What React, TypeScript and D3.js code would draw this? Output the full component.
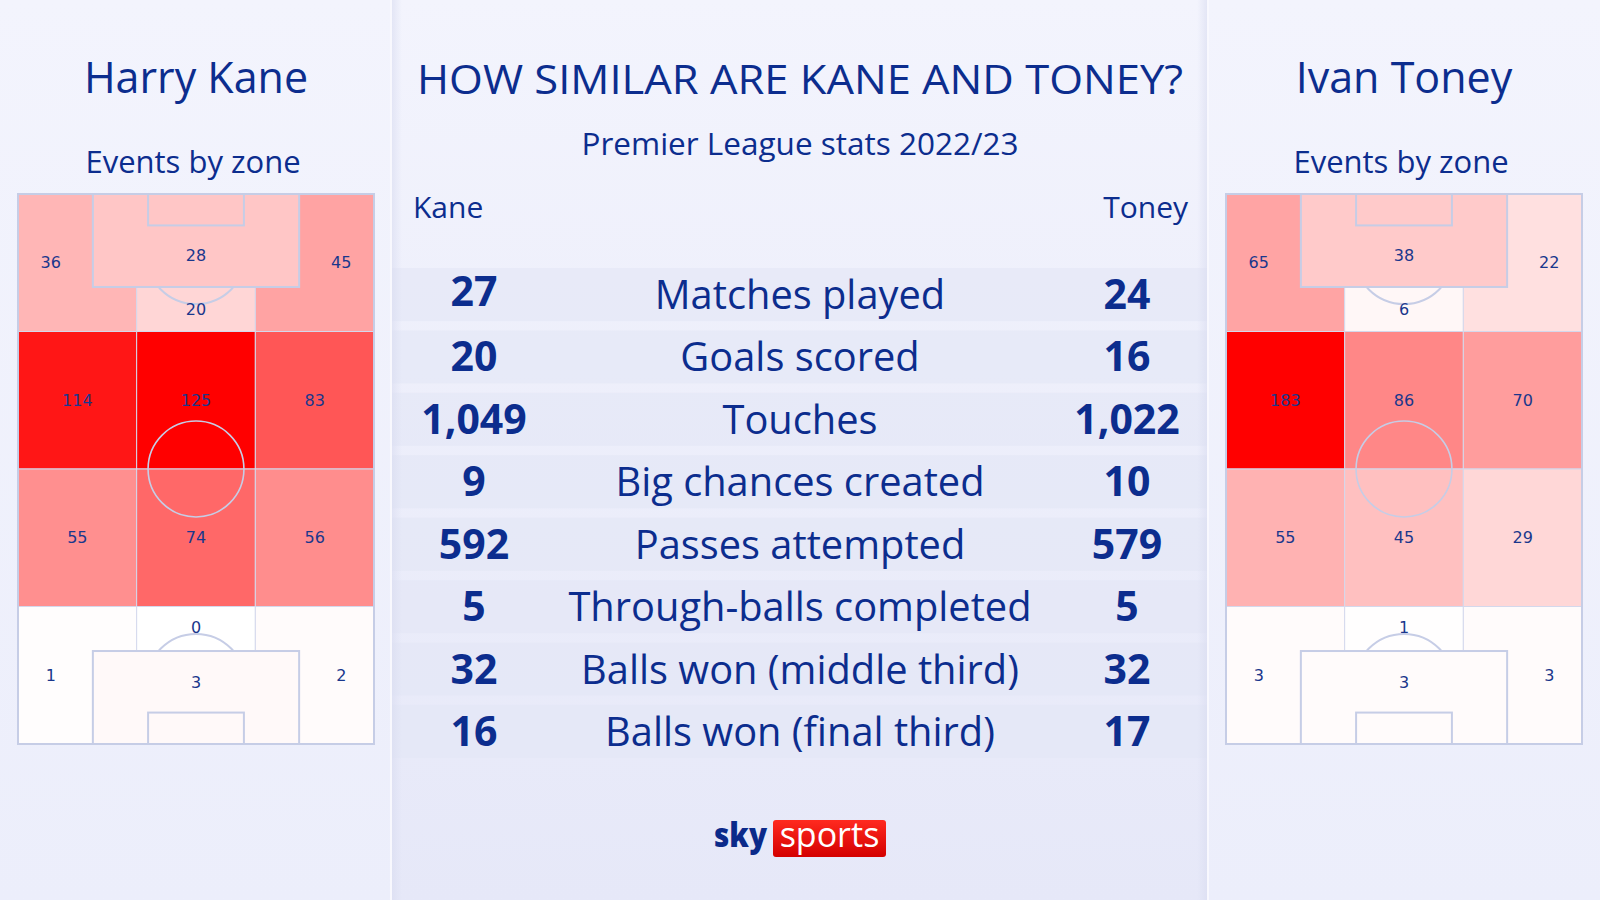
import React from "react";
import * as d3 from "d3";

// ---------- DATA ----------
const statLabels = [
  "Matches played",
  "Goals scored",
  "Touches",
  "Big chances created",
  "Passes attempted",
  "Through-balls completed",
  "Balls won (middle third)",
  "Balls won (final third)",
];
const kaneStats = [27, 20, 1049, 9, 592, 5, 32, 16];
const toneyStats = [24, 16, 1022, 10, 579, 5, 32, 17];

// zone order: top-left, top-box, top-centre, top-right, mid-left, mid-centre, mid-right,
// low-left, low-centre, low-right, bottom-left, bottom-centre, bottom-box, bottom-right
const zoneIds = [
  "tl", "tbox", "tc", "tr",
  "ml", "mc", "mr",
  "ll", "lc", "lr",
  "bl", "bc", "bbox", "br",
];
const kaneZones = [36, 28, 20, 45, 114, 125, 83, 55, 74, 56, 1, 0, 3, 2];
const toneyZones = [65, 38, 6, 22, 183, 86, 70, 55, 45, 29, 3, 1, 3, 3];

const mainTitle = "HOW SIMILAR ARE KANE AND TONEY?";
const subTitle = "Premier League stats 2022/23";
const players = ["Harry Kane", "Ivan Toney"];
const shortNames = ["Kane", "Toney"];
const pitchSubtitle = "Events by zone";

// ---------- LAYOUT ----------
const W = 1600;
const H = 900;
const BLUE = "#0c2d8e";
const FONT = "'Open Sans', 'Noto Sans', sans-serif";
const PL = 68; // pitch width (m)
const PLEN = 105; // pitch length (m)
const pitchW = 356;
const pitchH = 550;
const pitchY = 194;
const pitchXs = [18, 1226];
const c1 = PL / 3;
const c2 = (2 * PL) / 3;
const r = PLEN / 4;
const boxX0 = 14.3;
const boxX1 = PL - 14.3;
const boxD = 17.75;
const sixX0 = 24.85;
const sixX1 = PL - 24.85;
const sixD = 6;

// zone geometry in pitch metres: [x0, y0, x1, y1, labelX, labelY]
const zoneGeom: Record<string, number[]> = {
  tl: [0, 0, c1, r, 6.25, 13.1],
  tc: [c1, boxD, c2, r, PL / 2, 22],
  tr: [c2, 0, PL, r, PL - 6.25, 13.1],
  tbox: [boxX0, 0, boxX1, boxD, PL / 2, 11.8],
  ml: [0, r, c1, 2 * r, c1 / 2, 1.5 * r],
  mc: [c1, r, c2, 2 * r, PL / 2, 1.5 * r],
  mr: [c2, r, PL, 2 * r, (c2 + PL) / 2, 1.5 * r],
  ll: [0, 2 * r, c1, 3 * r, c1 / 2, 2.5 * r],
  lc: [c1, 2 * r, c2, 3 * r, PL / 2, 2.5 * r],
  lr: [c2, 2 * r, PL, 3 * r, (c2 + PL) / 2, 2.5 * r],
  bl: [0, 3 * r, c1, PLEN, 6.25, 3.5 * r],
  bc: [c1, 3 * r, c2, PLEN - boxD, PL / 2, 82.7],
  br: [c2, 3 * r, PL, PLEN, PL - 6.25, 3.5 * r],
  bbox: [boxX0, PLEN - boxD, boxX1, PLEN, PL / 2, 93.2],
};
const boxZones = ["tbox", "bbox"];

function Pitch({ x0, values }: { x0: number; values: number[] }) {
  const xs = d3.scaleLinear().domain([0, PL]).range([0, pitchW]);
  const ys = d3.scaleLinear().domain([0, PLEN]).range([0, pitchH]);
  const color = d3
    .scaleLinear<string>()
    .domain([0, d3.max(values) as number])
    .range(["#ffffff", "#ff0000"]);
  const lineCol = "#c6cde6";
  const arc = (rad: number, start: number, end: number) =>
    d3.arc()({
      innerRadius: ys(rad) - ys(0),
      outerRadius: ys(rad) - ys(0),
      startAngle: start,
      endAngle: end,
    } as any);
  const penR = 9.5;
  const cellIdx = zoneIds.map((id, i) => i).filter((i) => !boxZones.includes(zoneIds[i]));
  const boxIdx = zoneIds.map((id, i) => i).filter((i) => boxZones.includes(zoneIds[i]));
  const rectFor = (i: number, stroke: string, sw: number) => {
    const g = zoneGeom[zoneIds[i]];
    return (
      <rect
        key={zoneIds[i]}
        x={xs(g[0])}
        y={ys(g[1])}
        width={xs(g[2]) - xs(g[0])}
        height={ys(g[3]) - ys(g[1])}
        fill={color(values[i])}
        stroke={stroke}
        strokeWidth={sw}
      />
    );
  };
  return (
    <g transform={`translate(${x0},${pitchY})`}>
      {cellIdx.map((i) => rectFor(i, "#d4d8ec", 1))}
      {/* penalty arcs */}
      <path
        transform={`translate(${xs(PL / 2)},${ys(11.5)})`}
        d={arc(penR, Math.PI / 2, (3 * Math.PI) / 2) as string}
        fill="none"
        stroke={lineCol}
        strokeWidth={2}
      />
      <path
        transform={`translate(${xs(PL / 2)},${ys(PLEN - 11.5)})`}
        d={arc(penR, -Math.PI / 2, Math.PI / 2) as string}
        fill="none"
        stroke={lineCol}
        strokeWidth={2}
      />
      {/* centre circle */}
      <circle
        cx={xs(PL / 2)}
        cy={ys(PLEN / 2)}
        r={ys(9.15) - ys(0)}
        fill="none"
        stroke={lineCol}
        strokeWidth={1.6}
      />
      {boxIdx.map((i) => rectFor(i, lineCol, 2))}
      {/* six-yard boxes */}
      <rect
        x={xs(sixX0)}
        y={ys(0)}
        width={xs(sixX1) - xs(sixX0)}
        height={ys(sixD) - ys(0)}
        fill="none"
        stroke={lineCol}
        strokeWidth={2}
      />
      <rect
        x={xs(sixX0)}
        y={ys(PLEN - sixD)}
        width={xs(sixX1) - xs(sixX0)}
        height={ys(sixD) - ys(0)}
        fill="none"
        stroke={lineCol}
        strokeWidth={2}
      />
      <rect
        x={0}
        y={0}
        width={pitchW}
        height={pitchH}
        fill="none"
        stroke={lineCol}
        strokeWidth={2}
      />
      {zoneIds.map((id, i) => {
        const g = zoneGeom[id];
        return (
          <text
            key={"t" + id}
            x={xs(g[4])}
            y={ys(g[5])}
            textAnchor="middle"
            dominantBaseline="central"
            fontFamily="'DejaVu Sans', sans-serif"
            fontSize={16}
            fill="#1a378c"
          >
            {values[i]}
          </text>
        );
      })}
    </g>
  );
}

export default function App() {
  const fmt = d3.format(",");
  const rows = d3
    .scaleBand<string>()
    .domain(statLabels)
    .range([268, 758])
    .paddingInner(0.15)
    .paddingOuter(0);
  const panelX0 = 392;
  const panelX1 = 1207;
  return (
    <svg
      width={W}
      height={H}
      viewBox={`0 0 ${W} ${H}`}
      style={{ position: "absolute", left: 0, top: 0, display: "block" }}
    >
      <defs>
        <linearGradient id="bgGrad" x1="0" y1="0" x2="0" y2="1">
          <stop offset="0" stopColor="#f3f4fd" />
          <stop offset="1" stopColor="#eceefb" />
        </linearGradient>
        <linearGradient id="panelGrad" x1="0" y1="0" x2="0" y2="1">
          <stop offset="0" stopColor="#f3f4fd" />
          <stop offset="1" stopColor="#e6e8f8" />
        </linearGradient>
        <linearGradient id="edgeL" x1="0" y1="0" x2="1" y2="0">
          <stop offset="0" stopColor="#d9dcf0" stopOpacity={0.6} />
          <stop offset="1" stopColor="#d9dcf0" stopOpacity={0} />
        </linearGradient>
        <linearGradient id="edgeR" x1="1" y1="0" x2="0" y2="0">
          <stop offset="0" stopColor="#d9dcf0" stopOpacity={0.6} />
          <stop offset="1" stopColor="#d9dcf0" stopOpacity={0} />
        </linearGradient>
        <linearGradient id="redGrad" x1="0" y1="0" x2="0" y2="1">
          <stop offset="0" stopColor="#ff2a1f" />
          <stop offset="1" stopColor="#d40000" />
        </linearGradient>
      </defs>
      <rect x={0} y={0} width={W} height={H} fill="url(#bgGrad)" />
      {/* centre panel */}
      <rect x={panelX0 - 2} y={0} width={2} height={H} fill="#f8f8fe" />
      <rect x={panelX0} y={0} width={panelX1 - panelX0} height={H} fill="url(#panelGrad)" />

      {/* row bands */}
      {statLabels.map((s) => (
        <rect
          key={"b" + s}
          x={panelX0}
          y={rows(s)}
          width={panelX1 - panelX0}
          height={rows.bandwidth()}
          fill="#e3e6f6"
          opacity={0.65}
        />
      ))}
      <rect x={panelX0} y={0} width={10} height={H} fill="url(#edgeL)" />
      <rect x={panelX1 - 10} y={0} width={10} height={H} fill="url(#edgeR)" />
      <rect x={panelX1} y={0} width={2} height={H} fill="#f8f8fe" />

      {/* centre titles */}
      <text x={800} y={94} textAnchor="middle" fontFamily={FONT} fontSize={41} fontWeight={500} fill={BLUE}
        textLength={766} lengthAdjust="spacingAndGlyphs">
        {mainTitle}
      </text>
      <text x={800} y={155} textAnchor="middle" fontFamily={FONT} fontSize={31.5} fill={BLUE}>
        {subTitle}
      </text>
      <text x={413} y={218} textAnchor="start" fontFamily={FONT} fontSize={30} fill={BLUE}>
        {shortNames[0]}
      </text>
      <text x={1188} y={218} textAnchor="end" fontFamily={FONT} fontSize={30} fill={BLUE}>
        {shortNames[1]}
      </text>

      {statLabels.map((s, i) => {
        const y = (rows(s) as number) + 41;
        return (
          <g key={"r" + s}>
            <text x={474} y={y - (i === 0 ? 3 : 0)} textAnchor="middle" fontFamily={FONT} fontSize={41} fontWeight={700} fill={BLUE}>
              {fmt(kaneStats[i])}
            </text>
            <text x={800} y={y} textAnchor="middle" fontFamily={FONT} fontSize={39.8} fill={BLUE}>
              {s}
            </text>
            <text x={1127} y={y} textAnchor="middle" fontFamily={FONT} fontSize={41} fontWeight={700} fill={BLUE}>
              {fmt(toneyStats[i])}
            </text>
          </g>
        );
      })}

      {/* side titles */}
      {players.map((p, k) => (
        <g key={p}>
          <text x={pitchXs[k] + pitchW / 2} y={93} textAnchor="middle" fontFamily={FONT} fontSize={43} fill={BLUE}>
            {p}
          </text>
          <text x={pitchXs[k] + pitchW / 2 - 3} y={173} textAnchor="middle" fontFamily={FONT} fontSize={31} fill={BLUE}>
            {pitchSubtitle}
          </text>
        </g>
      ))}

      <Pitch x0={pitchXs[0]} values={kaneZones} />
      <Pitch x0={pitchXs[1]} values={toneyZones} />

      {/* sky sports logo */}
      <text x={714} y={847} fontFamily={FONT} fontSize={33} fontWeight={800} fill="#0b2a8a"
        textLength={53} lengthAdjust="spacingAndGlyphs">
        sky
      </text>
      <rect x={773} y={820} width={113} height={37} rx={3} fill="url(#redGrad)" />
      <text x={829.5} y={847} textAnchor="middle" fontFamily={FONT} fontSize={34} fill="#ffffff">
        sports
      </text>
    </svg>
  );
}
